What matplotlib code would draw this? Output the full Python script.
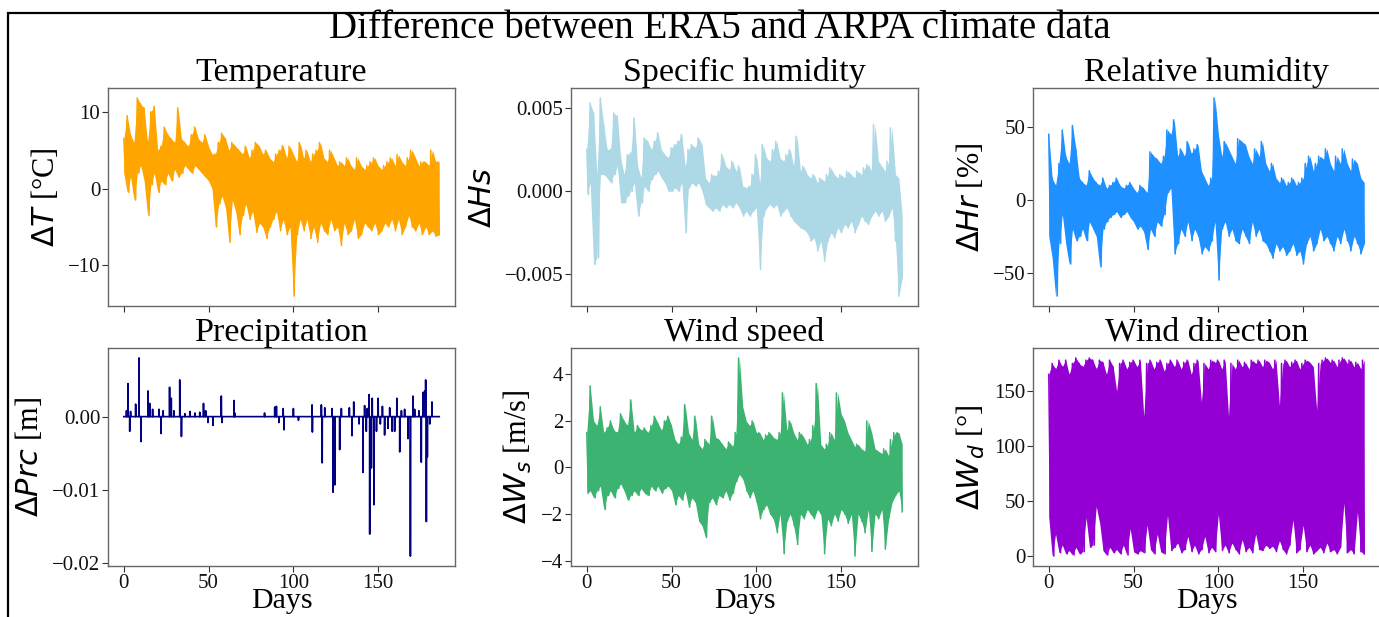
import numpy as np
import matplotlib
matplotlib.use("Agg")
import matplotlib.pyplot as plt
from matplotlib.patches import Rectangle

plt.rcParams['font.family'] = ['Liberation Serif', 'DejaVu Serif']
plt.rcParams['mathtext.fontset'] = 'dejavusans'

# ---------------- data ----------------
n_days = 186

temp_hi = [6.5, 9.5, 7.0, 6.0, 11.8, 11.0, 10.5, 6.0, 10.0, 10.7,
           5.0, 5.5, 8.0, 7.0, 6.5, 6.0, 10.5, 6.5, 6.0, 5.5,
           7.0, 8.0, 6.5, 6.0, 7.0, 5.5, 4.5, 4.5, 6.0, 7.2,
           6.5, 5.0, 6.0, 5.5, 5.0, 4.5, 5.5, 4.0, 5.0, 6.0,
           5.5, 4.5, 5.0, 4.0, 3.5, 4.5, 5.0, 5.6, 4.0, 5.5,
           4.5, 3.5, 6.0, 4.0, 5.0, 3.5, 4.5, 5.0, 6.0, 4.0,
           3.5, 5.0, 4.0, 3.0, 3.5, 3.0, 4.0, 3.0, 2.5, 4.0,
           3.0, 2.5, 3.0, 3.5, 4.0, 3.0, 2.5, 3.0, 3.5, 4.0,
           3.0, 4.4, 3.5, 3.0, 4.0, 5.0, 4.0, 3.0, 3.5, 3.5,
           3.0, 5.0, 3.5, 3.5]
temp_lo = [2.0, -0.5, 1.5, -1.5, 2.0, 3.0, 1.0, -3.5, 0.5, 2.0,
           -0.5, 1.0, 0.5, 2.0, 1.0, 2.5, 1.5, 2.0, 3.0, 2.5,
           2.0, 3.0, 2.5, 2.0, 1.5, 1.0, 0.0, -5.0, -2.0, -1.0,
           -2.5, -7.0, -1.5, -3.0, -6.0, -3.5, -2.0, -4.0, -3.0, -5.7,
           -4.5, -5.0, -6.5, -5.0, -4.0, -3.0, -5.5, -4.0, -6.0, -5.0,
           -14.0, -6.0, -4.0, -5.5, -4.0, -6.5, -5.0, -7.0, -4.5, -5.5,
           -6.0, -4.0, -5.5, -5.0, -7.4, -4.5, -6.0, -5.5, -4.0, -6.5,
           -6.0, -4.5, -5.0, -5.5, -4.5, -6.0, -5.5, -4.5, -5.0, -4.0,
           -5.5, -4.0, -6.0, -5.0, -3.5, -5.0, -5.5, -4.5, -6.0, -5.0,
           -6.0, -5.5, -6.2, -6.0]

sh_hi = [0.0025, 0.0053, 0.0047, 0.0010, 0.0056, 0.0040, 0.0025, 0.0025, 0.0047, 0.0045,
         0.0020, 0.0010, 0.0022, 0.0023, 0.0044, 0.0015, 0.0008, 0.0032, 0.0030, 0.0025,
         0.0030, 0.0035, 0.0025, 0.0022, 0.0020, 0.0026, 0.0028, 0.0030, 0.0034, 0.0015,
         0.0025, 0.0028, 0.0026, 0.0032, 0.0028, 0.0008, 0.0005, 0.0010, 0.0009, 0.0012,
         0.0022, 0.0015, 0.0013, 0.0018, 0.0012, 0.0015, 0.0003, 0.0002, 0.0003, 0.0010,
         0.0022, 0.0005, 0.0028, 0.0020, 0.0018, 0.0025, 0.0030, 0.0020, 0.0018, 0.0022,
         0.0025, 0.0015, 0.0033, 0.0012, 0.0015, 0.0010, 0.0008, 0.0010, 0.0005, 0.0008,
         0.0006, 0.0010, 0.0014, 0.0010, 0.0008, 0.0010, 0.0008, 0.0012, 0.0010, 0.0008,
         0.0012, 0.0010, 0.0014, 0.0016, 0.0012, 0.0040, 0.0018, 0.0015, 0.0012, 0.0018,
         0.0038, 0.0010, 0.0008, -0.0015]
sh_lo = [-0.0002, 0.0005, -0.0044, -0.0040, 0.0010, 0.0010, 0.0008, 0.0005, 0.0010, 0.0015,
         -0.0007, -0.0007, -0.0003, 0.0000, 0.0005, -0.0015, -0.0007, 0.0003, 0.0000, 0.0007,
         0.0010, 0.0012, 0.0008, 0.0005, 0.0000, 0.0000, 0.0002, 0.0000, 0.0005, -0.0025,
         0.0002, 0.0005, 0.0003, 0.0005, 0.0000, -0.0008, -0.0010, -0.0012, -0.0010, -0.0012,
         -0.0008, -0.0010, -0.0008, -0.0010, -0.0007, -0.0010, -0.0015, -0.0012, -0.0015, -0.0012,
         -0.0010, -0.0047, -0.0015, -0.0010, -0.0008, -0.0010, -0.0008, -0.0015, -0.0012, -0.0010,
         -0.0015, -0.0018, -0.0020, -0.0022, -0.0023, -0.0025, -0.0030, -0.0028, -0.0036, -0.0030,
         -0.0042, -0.0030, -0.0025, -0.0028, -0.0022, -0.0025, -0.0020, -0.0022, -0.0018, -0.0025,
         -0.0020, -0.0015, -0.0018, -0.0020, -0.0015, -0.0012, -0.0015, -0.0012, -0.0018, -0.0015,
         -0.0010, -0.0030, -0.0063, -0.0052]

rh_hi = [45, 15, 10, 25, 48, 30, 25, 51, 35, 15,
         12, 10, 20, 15, 12, 10, 15, 8, 10, 12,
         15, 10, 8, 10, 12, 8, 5, 10, 8, 5,
         33, 30, 28, 25, 30, 48, 45, 55, 30, 35,
         30, 40, 32, 35, 38, 20, 15, 10, 15, 70,
         45, 30, 40, 35, 30, 25, 42, 40, 38, 30,
         25, 35, 30, 40, 25, 20, 25, 15, 12, 15,
         10, 12, 15, 10, 12, 15, 25, 30, 20, 25,
         30, 28, 35, 25, 20, 30, 25, 35, 25, 20,
         28, 25, 15, 12]
rh_lo = [-25, -40, -66, -30, -10, -30, -44, -20, -28, -25,
         -20, -28, -15, -20, -25, -46, -20, -15, -12, -10,
         -8, -12, -10, -8, -12, -15, -20, -18, -22, -34,
         -20, -25, -15, -18, -10, 5, 8, -37, -30, -20,
         -25, -15, -28, -20, -25, -37, -32, -35, -28, -15,
         -55, -20, -15, -25, -20, -28, -30, -20, -25, -30,
         -15, -25, -20, -28, -30, -35, -40, -30, -35, -32,
         -38, -35, -30, -38, -35, -44, -30, -25, -35, -30,
         -20, -28, -25, -30, -35, -25, -30, -20, -28, -35,
         -25, -30, -37, -30]

prc_days = [1.6, 2.5, 3.5, 4.0, 7.0, 9.0, 10.2, 14.3, 15.3, 17.0,
            20.8, 22.0, 23.2, 27.0, 28.0, 29.5, 33.0, 34.0, 36.0, 39.0,
            42.0, 44.8, 47.0, 48.3, 49.7, 52.6, 57.5, 58.0, 65.0, 65.4,
            83.0, 89.0, 90.0, 91.5, 94.0, 94.5, 100.0, 103.0, 111.0, 111.2,
            116.5, 117.0, 118.5, 122.8, 123.4, 124.4, 127.3, 128.3, 133.0, 134.6,
            135.6, 138.7, 141.0, 142.0, 143.0, 143.6, 144.6, 145.0, 146.0, 146.5,
            147.5, 149.0, 150.0, 151.3, 152.5, 153.8, 155.8, 156.8, 158.3, 159.7,
            161.0, 162.7, 163.7, 165.6, 167.6, 169.0, 170.5, 171.5, 174.0, 175.4,
            176.4, 177.4, 178.0, 178.4, 179.0, 180.4, 181.7]
prc_vals = [0.0008, 0.0045, -0.0020, 0.0007, 0.0017, 0.0080, -0.0034, 0.0035, 0.0018, 0.0010,
            0.0010, -0.0023, 0.0008, 0.0040, 0.0025, 0.0008, 0.0050, -0.0027, 0.0004, 0.0007,
            0.0005, 0.0006, 0.0018, 0.0008, -0.0008, -0.0012, 0.0028, -0.0008, 0.0022, 0.0005,
            0.0005, 0.0013, 0.0014, -0.0008, 0.0011, -0.0018, 0.0011, -0.0005, 0.0016, -0.0021,
            0.0016, -0.0063, 0.0012, 0.0011, -0.0103, -0.0093, -0.0045, 0.0011, 0.0012, -0.0026,
            0.0020, -0.0010, -0.0076, 0.0015, -0.0020, 0.0011, 0.0030, -0.0160, -0.0070, 0.0025,
            -0.0120, -0.0020, 0.0025, -0.0010, 0.0014, -0.0025, -0.0016, 0.0012, -0.0020, -0.0020,
            0.0025, -0.0048, 0.0008, 0.0010, -0.0030, -0.0190, 0.0028, 0.0010, 0.0008, -0.0062,
            0.0033, 0.0035, 0.0050, -0.0143, -0.0055, -0.0010, 0.0020]

ws_hi = [1.5, 3.5, 2.0, 1.8, 2.6, 1.5, 1.7, 2.0, 1.6, 1.5,
         2.3, 2.0, 1.8, 2.9, 1.5, 1.8, 1.6, 1.7, 1.5, 1.8,
         2.2, 1.9, 1.6, 2.0, 2.2, 1.8, 1.2, 1.0, 1.3, 2.7,
         1.5, 1.2, 2.2, 1.0, 0.8, 1.2, 1.0, 2.2, 1.3, 1.2,
         1.0, 0.8, 1.1, 0.9, 1.5, 4.7, 2.6, 2.0, 1.8, 2.0,
         1.5, 1.5, 1.2, 1.4, 1.5, 1.3, 1.2, 1.5, 3.2, 1.6,
         2.0, 1.5, 1.2, 1.5, 1.3, 1.0, 1.2, 1.8, 3.6, 1.0,
         0.8, 1.0, 1.5, 1.2, 3.2, 2.3, 2.0, 1.5, 1.2, 0.9,
         1.0, 0.8, 0.7, 2.0, 1.5, 0.8, 0.7, 0.6, 0.8, 0.5,
         1.2, 1.5, 1.5, 1.0]
ws_lo = [-1.1, -1.0, -1.3, -1.0, -0.8, -1.8, -1.2, -1.0, -1.3, -0.9,
         -0.7, -1.0, -1.4, -1.2, -1.0, -1.2, -0.9, -1.1, -1.2, -0.8,
         -1.0, -0.8, -1.1, -0.9, -0.8, -1.0, -1.6, -1.2, -1.4, -1.0,
         -1.7, -1.3, -1.5, -2.3, -2.5, -3.0, -1.5, -1.3, -1.6, -1.2,
         -1.3, -1.0, -1.4, -1.1, -0.6, -0.3, -0.5, -1.0, -1.3, -1.0,
         -1.5, -2.2, -1.8, -1.6, -2.0, -2.2, -2.8, -2.0, -3.7, -2.3,
         -2.0, -2.5, -3.3, -2.0, -2.2, -1.8, -2.0, -2.2, -1.8, -2.0,
         -3.7, -2.2, -2.5, -2.0, -2.3, -1.8, -2.0, -2.4, -2.0, -3.8,
         -2.0, -2.3, -2.8, -1.8, -3.6, -2.0, -2.2, -1.8, -3.5, -2.2,
         -1.5, -1.2, -1.0, -1.9]

wd_hi = [165, 175, 170, 178, 172, 178, 165, 175, 180, 175,
         172, 178, 180, 178, 170, 178, 176, 165, 178, 172,
         150, 175, 178, 170, 176, 178, 172, 178, 127, 175,
         178, 170, 176, 178, 168, 175, 178, 172, 178, 170,
         176, 178, 165, 175, 178, 140, 175, 170, 178, 176,
         178, 170, 178, 127, 175, 170, 178, 172, 176, 170,
         178, 175, 178, 172, 178, 176, 170, 178, 137, 175,
         178, 172, 176, 178, 170, 175, 178, 176, 172, 132,
         175, 178, 180, 176, 178, 172, 178, 180, 175, 178,
         172, 176, 170, 178]
wd_lo = [35, 0, 20, 3, 10, 2, 5, 1, 8, 2,
         4, 35, 8, 10, 45, 30, 5, 1, 8, 3,
         6, 2, 10, 1, 25, 4, 2, 5, 3, 28,
         6, 2, 20, 4, 2, 37, 5, 8, 12, 3,
         6, 18, 4, 10, 2, 6, 18, 3, 8, 4,
         38, 5, 10, 3, 12, 6, 2, 15, 4, 8,
         3, 20, 6, 5, 10, 7, 9, 4, 14, 6,
         2, 10, 33, 3, 6, 28, 4, 10, 2, 5,
         8, 3, 12, 4, 6, 2, 8, 48, 3, 6,
         2, 40, 4, 2]

titles = ["Temperature", "Specific humidity", "Relative humidity",
          "Precipitation", "Wind speed", "Wind direction"]
ylabels = [r"$\Delta T$ [°C]", r"$\Delta Hs$", r"$\Delta Hr$ [%]",
           r"$\Delta Prc$ [m]", r"$\Delta W_s$ [m/s]", r"$\Delta W_d$ [°]"]
colors = ["orange", "lightblue", "dodgerblue", "navy", "mediumseagreen", "darkviolet"]
xticks = [0, 50, 100, 150]

# precipitation: hourly series, zero except where spikes were read
n_hours = n_days * 24 + 1
prc_x = np.arange(n_hours) / 24.0
prc_y = np.zeros(n_hours)
for d, v in zip(prc_days, prc_vals):
    prc_y[int(round(d * 24))] = v

envelopes = [(temp_hi, temp_lo), (sh_hi, sh_lo), (rh_hi, rh_lo),
             None, (ws_hi, ws_lo), (wd_hi, wd_lo)]

# ---------------- figure ----------------
W, H = 1379, 617
fig = plt.figure(figsize=(W / 100, H / 100), dpi=100)

lefts = [108, 571, 1033]
tops = [88, 348]
aw, ah = 347, 218
axes = []
for r in range(2):
    for c in range(3):
        ax = fig.add_axes([lefts[c] / W, 1 - (tops[r] + ah) / H, aw / W, ah / H])
        axes.append(ax)

for i, ax in enumerate(axes):
    env = envelopes[i]
    if env is None:
        ax.plot(prc_x, prc_y, color=colors[i], lw=1.2)
    else:
        hi, lo = env
        xg = np.linspace(0, n_days, len(hi))
        # dense band between the read upper and lower envelopes
        ax.fill_between(xg, lo, hi, color=colors[i], lw=0)
        # zig-zag through the same read extremes for the spiky texture
        yz = np.empty(len(hi) + len(lo))
        yz[0::2] = hi
        yz[1::2] = lo
        xz = np.linspace(0, n_days, len(yz))
        ax.plot(xz, yz, color=colors[i], lw=1.1)
    ax.set_title(titles[i], fontsize=24.5, pad=2)
    ax.set_ylabel(ylabels[i], fontsize=22, labelpad=5)
    ax.set_xticks(xticks)
    ax.tick_params(labelsize=15, colors='#333333', length=4, width=0.8, pad=1.5)
    ax.tick_params(labelcolor='#111111')
    for s in ax.spines.values():
        s.set_color('#666666')
        s.set_linewidth(1.0)
    if i < 3:
        ax.tick_params(labelbottom=False)
    else:
        ax.set_xlabel("Days", fontsize=21.5, labelpad=-3.5)

axes[1].set_yticks([-0.005, 0.0, 0.005])
axes[3].set_yticks([-0.02, -0.01, 0.0])
axes[3].set_yticklabels(["−0.02", "−0.01", "0.00"])

fig.text(0.522, 1 - 28 / H, "Difference between ERA5 and ARPA climate data",
         ha='center', va='center', fontsize=28)

fig.patches.append(Rectangle((8 / W, -0.05), 1.2, (1 - 13 / H) + 0.05,
                             transform=fig.transFigure, fill=False,
                             ec='black', lw=1.6, zorder=10))

fig.savefig("out.png", dpi=100)
